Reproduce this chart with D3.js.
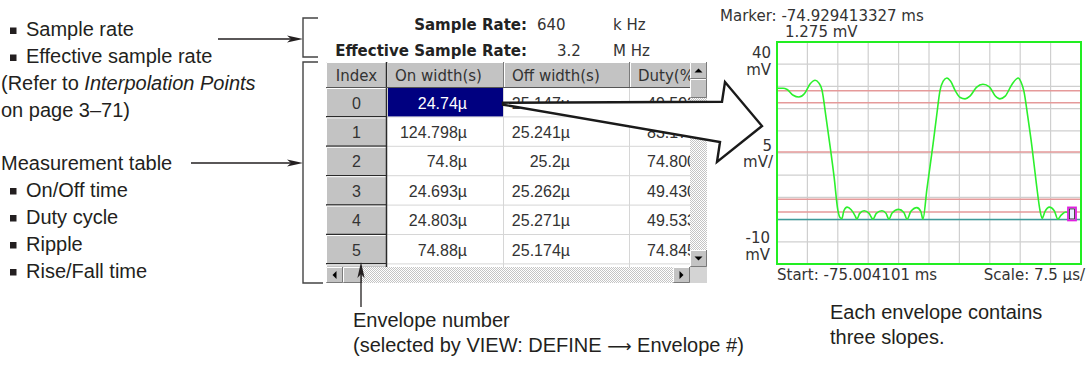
<!DOCTYPE html>
<html>
<head>
<meta charset="utf-8">
<script src="https://cdn.jsdelivr.net/npm/d3@7"></script>
<style>
  body { margin: 0; background: #fff; }
  svg { display: block; }
</style>
</head>
<body>
<div id="chart"></div>
<script>
// ---- data ----
const sampleNotes = ['Sample rate', 'Effective sample rate'];
const tableNotes = ['On/Off time', 'Duty cycle', 'Ripple', 'Rise/Fall time'];

const rateLabels = ['Sample Rate:', 'Effective Sample Rate:'];
const rateValues = ['640', '3.2'];
const rateUnits = ['k Hz', 'M Hz'];

const tableHeaders = ['Index', 'On width(s)', 'Off width(s)', 'Duty(%)'];
const envelopeIndex = ['0', '1', '2', '3', '4', '5', '6'];
const onWidths = ['24.74\u00b5', '124.798\u00b5', '74.8\u00b5', '24.693\u00b5', '24.803\u00b5', '74.88\u00b5', ''];
const offWidths = ['25.147\u00b5', '25.241\u00b5', '25.2\u00b5', '25.262\u00b5', '25.271\u00b5', '25.174\u00b5', ''];
const dutyCycles = ['49.592', '83.176', '74.800', '49.430', '49.533', '74.845', ''];

// waveform: time (us from start), level (mV)
const waveTime = [0, 1.5, 2.5, 4, 5.4, 6.8, 8.2, 9.4, 10.3, 11.1, 12.1, 13.1, 14.1, 15.0, 15.6,
  16.0, 16.5, 17.3, 18.3, 19.3, 19.7, 20.4, 21.5, 22.7, 23.7, 24.5, 25.9, 26.9, 27.6,
  28.4, 30.0, 31.3, 32.1, 33.0, 34.5, 35.5, 36.0, 37.0, 38.5, 39.4, 40.2, 41.0, 41.9,
  42.8, 44.0, 45.2, 46.4, 47.6, 49.2, 50.8, 52.4, 53.8, 55.0, 56.3, 58.0, 59.5, 60.2,
  60.9, 61.9, 62.9, 64.0, 64.9, 65.4, 66.1, 67.2, 68.4, 69.3, 70.1, 71.2, 72.2, 73.0];
const waveLevel = [29.6, 29.6, 29.3, 28.0, 27.6, 28.4, 30.6, 31.4, 30.8, 29.2, 23.0, 16.5, 9.5, 2.2, 0.4,
  0.2, 2.0, 2.8, 2.2, 0.8, 0.1, 1.4, 2.0, 1.4, 0.1, 1.4, 2.0, 1.4, 0.1,
  1.5, 2.3, 1.6, 0.1, 1.8, 2.7, 1.8, 0.1, 7.0, 17.0, 23.5, 29.0, 31.2, 31.9,
  31.2, 29.0, 27.5, 27.2, 27.8, 29.8, 30.5, 29.9, 27.9, 27.2, 27.8, 30.5, 31.9, 31.0,
  29.0, 23.0, 16.4, 8.0, 2.0, 0.3, 1.8, 2.8, 2.0, 0.1, 1.0, 1.7, 1.6, 1.3];

const refLevels = [29.0, 26.3, 15.2, 4.6, 1.7];   // red reference lines, mV
const baseLevel = 0;                              // teal base line, mV
const voltTop = 40, voltBottom = -10, voltPerDiv = 5;
const timePerDiv = 7.5, timeDivs = 10;
const markerTime = 74.688, markerValue = 1.275;
const markerText = 'Marker: -74.929413327 ms';
const startText = 'Start: -75.004101 ms';
const scaleText = 'Scale: 7.5 \u00b5s/';

// ---- frame ----
const width = 1088, height = 385;
const noteFont = "'Liberation Sans', Arial, sans-serif";
const uiFont = "'DejaVu Sans', Verdana, sans-serif";
const cellFont = "'Liberation Sans', Arial, sans-serif";
const ink = '#231f20';

const svg = d3.select('#chart').append('svg')
  .attr('width', width).attr('height', height)
  .attr('viewBox', `0 0 ${width} ${height}`);
svg.append('rect').attr('width', width).attr('height', height).attr('fill', '#fff');

const defs = svg.append('defs');
const hatch = defs.append('pattern').attr('id', 'hatch')
  .attr('width', 2).attr('height', 2).attr('patternUnits', 'userSpaceOnUse');
hatch.append('rect').attr('width', 2).attr('height', 2).attr('fill', '#fff');
hatch.append('rect').attr('width', 1).attr('height', 1).attr('fill', '#c4c4c4');
hatch.append('rect').attr('x', 1).attr('y', 1).attr('width', 1).attr('height', 1).attr('fill', '#c4c4c4');

// ---- left annotations ----
const notes = svg.append('g').attr('font-family', noteFont).attr('font-size', 20).attr('fill', ink);
const lineGap = 27;

function bulletLine(txt, base) {
  notes.append('rect').attr('x', 10).attr('y', base - 8.5).attr('width', 6.5).attr('height', 6.5);
  notes.append('text').attr('x', 26).attr('y', base).text(txt);
}
sampleNotes.forEach((t, i) => bulletLine(t, 36 + i * lineGap));
const refer = notes.append('text').attr('x', 1).attr('y', 36 + 2 * lineGap);
refer.append('tspan').text('(Refer to ');
refer.append('tspan').attr('font-style', 'italic').text('Interpolation Points');
notes.append('text').attr('x', 1).attr('y', 36 + 3 * lineGap).text('on page 3\u201371)');
notes.append('text').attr('x', 1).attr('y', 170).text('Measurement table');
tableNotes.forEach((t, i) => bulletLine(t, 170 + (i + 1) * lineGap - 0.5));

// small arrows to brackets
function pointer(x1, y1, x2, y2) {
  const ang = Math.atan2(y2 - y1, x2 - x1);
  const g = svg.append('g').attr('transform', `translate(${x2},${y2}) rotate(${ang * 180 / Math.PI})`);
  svg.append('line').attr('x1', x1).attr('y1', y1)
    .attr('x2', x2 - 10 * Math.cos(ang)).attr('y2', y2 - 10 * Math.sin(ang))
    .attr('stroke', ink).attr('stroke-width', 1.3);
  g.append('path').attr('d', 'M0,0 L-16,-3.6 L-12,0 L-16,3.6 Z').attr('fill', ink);
}
pointer(218, 39, 303, 39);
pointer(191, 163, 303, 163);

// brackets
svg.append('path').attr('d', 'M318,18 H303 V57 H318').attr('fill', 'none').attr('stroke', '#444').attr('stroke-width', 1.4);
svg.append('path').attr('d', 'M318,62 H303 V283 H323').attr('fill', 'none').attr('stroke', '#444').attr('stroke-width', 1.4);

// ---- sample rate block ----
const rates = svg.append('g').attr('font-family', uiFont).attr('font-size', 15).attr('fill', '#333');
rateLabels.forEach((t, i) => {
  const base = 30 + i * 26;
  rates.append('text').attr('x', 527).attr('y', base).attr('text-anchor', 'end')
    .attr('font-weight', 'bold').attr('fill', '#222').text(t);
  rates.append('text').attr('x', i === 0 ? 537 : 557).attr('y', base).text(rateValues[i]);
  rates.append('text').attr('x', 613).attr('y', base).text(rateUnits[i]);
});

// ---- measurement table ----
const colX = [326, 387, 504, 630, 780];
const tTop = 62, headH = 26, rowH = 29.4, tBottom = 267, tRight = 690;
defs.append('clipPath').attr('id', 'tclip').append('rect')
  .attr('x', colX[0]).attr('y', tTop).attr('width', tRight - colX[0]).attr('height', tBottom - tTop);

const table = svg.append('g').attr('clip-path', 'url(#tclip)')
  .attr('font-family', uiFont).attr('font-size', 15);
table.append('rect').attr('x', colX[0]).attr('y', tTop).attr('width', tRight - colX[0])
  .attr('height', tBottom - tTop).attr('fill', '#fff');

function bevel(g, x0, y0, w, h) {
  g.append('rect').attr('x', x0).attr('y', y0).attr('width', w).attr('height', h).attr('fill', '#c3c3c3');
  g.append('path').attr('d', `M${x0 + 0.5},${y0 + h - 1} V${y0 + 0.5} H${x0 + w - 1}`)
    .attr('fill', 'none').attr('stroke', '#fff').attr('stroke-width', 1);
  g.append('path').attr('d', `M${x0 + 0.5},${y0 + h - 0.5} H${x0 + w - 0.5} V${y0}`)
    .attr('fill', 'none').attr('stroke', '#7a7a7a').attr('stroke-width', 1);
}

// header
tableHeaders.forEach((h, i) => {
  bevel(table, colX[i], tTop, colX[i + 1] - colX[i], headH);
  table.append('text')
    .attr('x', i === 0 ? (colX[0] + colX[1]) / 2 : colX[i] + 8)
    .attr('y', tTop + 19)
    .attr('text-anchor', i === 0 ? 'middle' : 'start')
    .attr('fill', '#333').text(h);
});

// rows
const rows = table.selectAll('g.row').data(envelopeIndex).join('g')
  .attr('class', 'row')
  .attr('font-family', cellFont).attr('font-size', 16)
  .attr('transform', (d, i) => `translate(0,${tTop + headH + i * rowH})`);

rows.each(function (d, i) {
  const r = d3.select(this);
  bevel(r, colX[0], 0, colX[1] - colX[0], rowH);
  r.append('line').attr('x1', colX[0]).attr('x2', colX[1]).attr('y1', rowH - 0.5).attr('y2', rowH - 0.5)
    .attr('stroke', '#2a2a2a').attr('stroke-width', 1.6);
  r.append('line').attr('x1', colX[1]).attr('x2', tRight).attr('y1', rowH - 0.5).attr('y2', rowH - 0.5)
    .attr('stroke', '#d6d6d6');
  if (i === 0) {
    r.append('rect').attr('x', colX[1] + 1).attr('y', 0).attr('width', colX[2] - colX[1] - 1)
      .attr('height', rowH - 1).attr('fill', '#000080');
  }
  const mid = rowH / 2 + 6;
  r.append('text').attr('x', (colX[0] + colX[1]) / 2).attr('y', mid).attr('text-anchor', 'middle')
    .attr('fill', '#333').text(d);
  r.append('text').attr('x', colX[2] - 37).attr('y', mid).attr('text-anchor', 'end')
    .attr('fill', i === 0 ? '#fff' : '#333').text(onWidths[i]);
  r.append('text').attr('x', colX[3] - 60).attr('y', mid).attr('text-anchor', 'end')
    .attr('fill', '#333').text(offWidths[i]);
  r.append('text').attr('x', colX[3] + 17).attr('y', mid).attr('fill', '#333').text(dutyCycles[i]);
});

// column separators
[colX[2], colX[3]].forEach(cx => {
  table.append('line').attr('x1', cx - 0.5).attr('x2', cx - 0.5).attr('y1', tTop + headH).attr('y2', tBottom)
    .attr('stroke', '#d6d6d6');
});
table.append('line').attr('x1', colX[1] - 0.5).attr('x2', colX[1] - 0.5).attr('y1', tTop).attr('y2', tBottom)
  .attr('stroke', '#2a2a2a').attr('stroke-width', 1.5);
table.append('line').attr('x1', colX[0]).attr('x2', tRight).attr('y1', tTop + headH - 0.5).attr('y2', tTop + headH - 0.5)
  .attr('stroke', '#555');

// scrollbars
const sb = svg.append('g');
const vx = tRight, vw = 17, hy = tBottom, hh = 16;
sb.append('rect').attr('x', vx).attr('y', tTop).attr('width', vw).attr('height', tBottom - tTop).attr('fill', 'url(#hatch)');
sb.append('rect').attr('x', colX[0]).attr('y', hy).attr('width', tRight - colX[0]).attr('height', hh).attr('fill', 'url(#hatch)');
bevel(sb, vx, tTop, vw, 17);
bevel(sb, vx, tTop + 17, vw, 19);
bevel(sb, vx, tBottom - 17, vw, 17);
bevel(sb, colX[0], hy, 17, hh);
bevel(sb, colX[0] + 17, hy, 19, hh);
bevel(sb, tRight - 17, hy, 17, hh);
sb.append('rect').attr('x', vx).attr('y', hy).attr('width', vw).attr('height', hh).attr('fill', '#d4d4d4');
const tri = (cx, cy, dir) => {
  const p = {
    up: `M${cx - 4},${cy + 2} L${cx + 4},${cy + 2} L${cx},${cy - 2} Z`,
    down: `M${cx - 4},${cy - 2} L${cx + 4},${cy - 2} L${cx},${cy + 2} Z`,
    left: `M${cx + 2},${cy - 4} L${cx + 2},${cy + 4} L${cx - 2},${cy} Z`,
    right: `M${cx - 2},${cy - 4} L${cx - 2},${cy + 4} L${cx + 2},${cy} Z`
  }[dir];
  sb.append('path').attr('d', p).attr('fill', '#000');
};
tri(vx + vw / 2, tTop + 8.5, 'up');
tri(vx + vw / 2, tBottom - 8.5, 'down');
tri(colX[0] + 8.5, hy + hh / 2, 'left');
tri(tRight - 8.5, hy + hh / 2, 'right');

// envelope number pointer
pointer(361, 307, 361, 262);
const env = svg.append('g').attr('font-family', noteFont).attr('font-size', 20).attr('fill', ink);
env.append('text').attr('x', 353).attr('y', 327).text('Envelope number');
const sel = env.append('text').attr('x', 353).attr('y', 352);
sel.append('tspan').text('(selected by VIEW: DEFINE ');
sel.append('tspan').attr('font-family', "'DejaVu Sans', sans-serif").attr('font-size', 17).text('\u27f6');
sel.append('tspan').text(' Envelope #)');

// ---- waveform display ----
const x = d3.scaleLinear().domain([0, timePerDiv * timeDivs]).range([777, 1081]);
const y = d3.scaleLinear().domain([voltBottom, voltTop]).range([264, 42]);
const plot = svg.append('g');
defs.append('clipPath').attr('id', 'pclip').append('rect')
  .attr('x', x(0)).attr('y', y(voltTop)).attr('width', x.range()[1] - x(0)).attr('height', y(voltBottom) - y(voltTop));

const xGrid = d3.range(1, timeDivs).map(k => k * timePerDiv);
const yGrid = d3.range(voltBottom + voltPerDiv, voltTop, voltPerDiv);
plot.selectAll('line.vg').data(xGrid).join('line').attr('class', 'vg')
  .attr('x1', d => x(d)).attr('x2', d => x(d)).attr('y1', y(voltTop)).attr('y2', y(voltBottom))
  .attr('stroke', '#cfcfcf').attr('stroke-width', 1.2);
plot.selectAll('line.hg').data(yGrid).join('line').attr('class', 'hg')
  .attr('x1', x(0)).attr('x2', x.range()[1]).attr('y1', d => y(d)).attr('y2', d => y(d))
  .attr('stroke', '#cfcfcf').attr('stroke-width', 1.2);
plot.selectAll('line.ref').data(refLevels).join('line').attr('class', 'ref')
  .attr('x1', x(0)).attr('x2', x.range()[1]).attr('y1', d => y(d)).attr('y2', d => y(d))
  .attr('stroke', '#e59a9a').attr('stroke-width', 1.5);
plot.append('line').attr('x1', x(0)).attr('x2', x.range()[1]).attr('y1', y(baseLevel)).attr('y2', y(baseLevel))
  .attr('stroke', '#3f9a9a').attr('stroke-width', 1.5);

const wave = waveTime.map((t, i) => [t, waveLevel[i]]);
plot.append('path').datum(wave).attr('clip-path', 'url(#pclip)')
  .attr('d', d3.line().x(d => x(d[0])).y(d => y(d[1])).curve(d3.curveMonotoneX))
  .attr('fill', 'none').attr('stroke', '#2cf02c').attr('stroke-width', 1.6);

plot.append('rect').attr('x', x(0)).attr('y', y(voltTop)).attr('width', x.range()[1] - x(0))
  .attr('height', y(voltBottom) - y(voltTop)).attr('fill', 'none').attr('stroke', '#22ee22').attr('stroke-width', 2);

// marker box
const mx = Math.min(x(markerTime), x.range()[1] - 5);
plot.append('rect').attr('x', mx - 8).attr('y', y(markerValue) - 6.5).attr('width', 8).attr('height', 13)
  .attr('fill', '#e8f0ff').attr('stroke', '#e020e0').attr('stroke-width', 1.8);
plot.append('rect').attr('x', mx - 6.5).attr('y', y(markerValue) - 5).attr('width', 5).attr('height', 10)
  .attr('fill', 'none').attr('stroke', '#222').attr('stroke-width', 0.8);

const lab = svg.append('g').attr('font-family', uiFont).attr('font-size', 15).attr('fill', '#333');
lab.append('text').attr('x', 720).attr('y', 21).text(markerText);
lab.append('text').attr('x', 785).attr('y', 37).text(`${markerValue} mV`);
lab.append('text').attr('x', 771).attr('y', 58).attr('text-anchor', 'end').text(voltTop);
lab.append('text').attr('x', 771).attr('y', 75).attr('text-anchor', 'end').text('mV');
lab.append('text').attr('x', 772).attr('y', 151).attr('text-anchor', 'end').text(voltPerDiv);
lab.append('text').attr('x', 773).attr('y', 167).attr('text-anchor', 'end').text('mV/');
lab.append('text').attr('x', 770).attr('y', 243).attr('text-anchor', 'end').text(voltBottom);
lab.append('text').attr('x', 770).attr('y', 260).attr('text-anchor', 'end').text('mV');
lab.append('text').attr('x', 777).attr('y', 280).text(startText);
lab.append('text').attr('x', 1085).attr('y', 280).attr('text-anchor', 'end').text(scaleText);

const each = svg.append('g').attr('font-family', noteFont).attr('font-size', 20).attr('fill', ink);
each.append('text').attr('x', 830).attr('y', 319).text('Each envelope contains');
each.append('text').attr('x', 830).attr('y', 344).text('three slopes.');

// ---- big hollow arrow from selected cell to the display ----
const tailX = colX[2] - 1, tailY = tTop + headH + rowH / 2;
svg.append('path')
  .attr('d', `M${tailX},${tailY} L722,${tailY - 1} L725,82 L762,126 L717,162 L720,142 L${tailX},${tailY + 2} Z`)
  .attr('fill', '#fff').attr('stroke', '#1a1a1a').attr('stroke-width', 2.4).attr('stroke-linejoin', 'miter');
</script>
</body>
</html>
